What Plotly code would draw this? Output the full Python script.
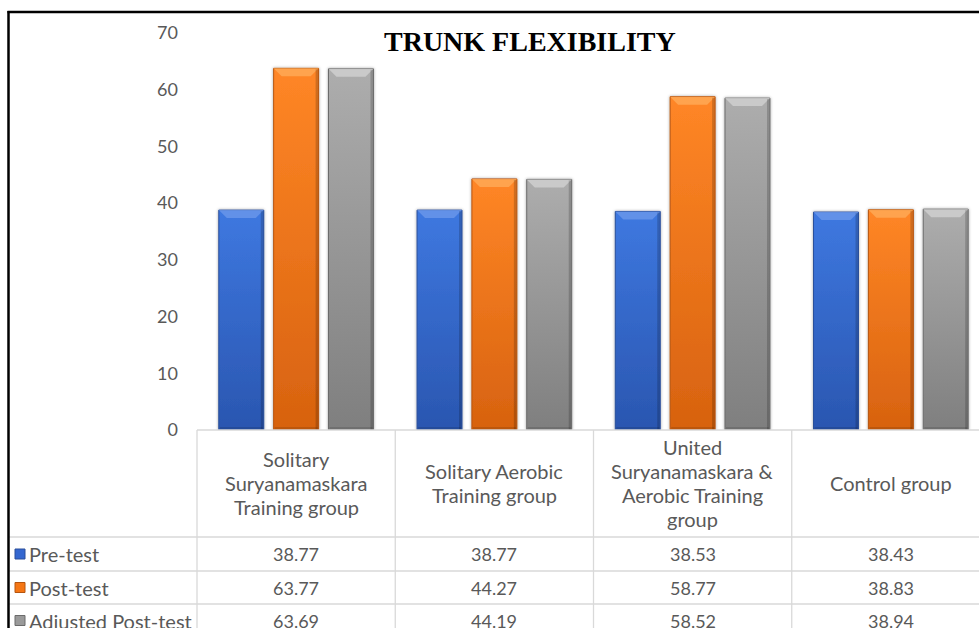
import json
import plotly.graph_objects as go

# ---- data -------------------------------------------------------------
categories = [
    "Solitary<br>Suryanamaskara<br>Training group",
    "Solitary Aerobic<br>Training group",
    "United<br>Suryanamaskara &<br>Aerobic Training<br>group",
    "Control group",
]
series_names = ["Pre-test", "Post-test", "Adjusted Post-test"]
pre_test = [38.77, 38.77, 38.53, 38.43]
post_test = [63.77, 44.27, 58.77, 38.83]
adjusted_post_test = [63.69, 44.19, 58.52, 38.94]
y_ticks = [0, 10, 20, 30, 40, 50, 60, 70]
chart_title = "TRUNK FLEXIBILITY"

# ---- styling ----------------------------------------------------------
W, H = 979, 628
series_values = [pre_test, post_test, adjusted_post_test]
base_colors = ["#3467D0", "#F57615", "#9A9A9A"]
edge_colors = ["#2A4F9A", "#B5540F", "#6B6B6B"]
grad_colors = [("#3E78E0", "#2A56B0"), ("#FF8626", "#D7620F"), ("#ADADAD", "#7F7F7F")]
bevel_colors = ["#6F9AEB", "#FFAE5C", "#D4D4D4"]
grid_color = "#D9D9D9"
text_color = "#595959"
FONT = "Lato, 'Open Sans', sans-serif"
WORD_SIZE = 20
NUM_SIZE = 18
LINE_GAP = 24


def fx(px):
    return px / W


def fy(py):
    return 1 - py / H


xs = list(range(len(categories)))
x_units_per_px = 1 / 198.3

fig = go.Figure()
for name, vals, col, edge in zip(series_names, series_values, base_colors, edge_colors):
    fig.add_trace(go.Bar(
        x=xs, y=vals, name=name,
        marker=dict(color=col, line=dict(color=edge, width=1)),
        showlegend=False, hoverinfo="y+name",
    ))

annotations = []
# chart title
annotations.append(dict(
    text=f"<b>{chart_title}</b>", x=fx(530), y=fy(41), xref="paper", yref="paper",
    xanchor="center", yanchor="middle", showarrow=False,
    font=dict(family="'Liberation Serif', 'Times New Roman', serif", size=28, color="#000000"),
))
# data table header (category names), one annotation per wrapped line
header_mid = 483
for i, cat in enumerate(categories):
    lines = cat.split("<br>")
    first = header_mid - LINE_GAP * (len(lines) - 1) / 2
    for k, ln in enumerate(lines):
        annotations.append(dict(
            text=ln, x=i, xref="x", y=fy(first + k * LINE_GAP), yref="paper",
            xanchor="center", yanchor="middle", showarrow=False,
            font=dict(family=FONT, size=WORD_SIZE, color=text_color),
        ))
# data table rows
row_centres = [554, 587.5, 620.5]
for r, (name, vals) in enumerate(zip(series_names, series_values)):
    annotations.append(dict(
        text=name, x=fx(27), xref="paper", y=fy(row_centres[r]), yref="paper",
        xanchor="left", yanchor="middle", showarrow=False,
        font=dict(family=FONT, size=WORD_SIZE, color=text_color),
    ))
    for i, v in enumerate(vals):
        annotations.append(dict(
            text=f"{v:.2f}", x=i, xref="x", y=fy(row_centres[r]), yref="paper",
            xanchor="center", yanchor="middle", showarrow=False,
            font=dict(family=FONT, size=NUM_SIZE, color=text_color),
        ))

shapes = []
line = dict(color=grid_color, width=1.3)
# table horizontal rules
shapes.append(dict(type="line", xref="paper", yref="paper", x0=fx(197), x1=1, y0=fy(430), y1=fy(430), line=line))
for yy in [537, 571, 604]:
    shapes.append(dict(type="line", xref="paper", yref="paper", x0=fx(8), x1=1, y0=fy(yy), y1=fy(yy), line=line))
# table vertical rules
shapes.append(dict(type="line", xref="paper", yref="paper", x0=fx(197), x1=fx(197), y0=fy(430), y1=0, line=line))
for b in [0.5, 1.5, 2.5]:
    shapes.append(dict(type="line", xref="x", yref="paper", x0=b, x1=b, y0=fy(430), y1=0, line=line))
# legend keys in the table
for r, (col, edge) in enumerate(zip(base_colors, edge_colors)):
    c = row_centres[r]
    shapes.append(dict(type="rect", xref="paper", yref="paper",
                       x0=fx(15), x1=fx(25), y0=fy(c + 5), y1=fy(c - 5),
                       fillcolor=col, line=dict(color=edge, width=1)))
# chart frame
shapes.append(dict(type="line", xref="paper", yref="paper", x0=fx(8.5), x1=fx(8.5), y0=fy(11), y1=0,
                   line=dict(color="#000000", width=2.5)))
shapes.append(dict(type="line", xref="paper", yref="paper", x0=fx(7.5), x1=1, y0=fy(12), y1=fy(12),
                   line=dict(color="#000000", width=2.5)))

fig.update_layout(
    width=W, height=H,
    margin=dict(l=0, r=0, t=0, b=0, pad=0, autoexpand=False),
    paper_bgcolor="#FFFFFF", plot_bgcolor="#FFFFFF",
    showlegend=False,
    barmode="group", bargap=0.17, bargroupgap=0.18,
    xaxis=dict(
        domain=[fx(197), 1], range=[-0.5, 3.5 - 11 * x_units_per_px],
        showticklabels=False, showgrid=False, zeroline=False, showline=False, ticks="",
        fixedrange=True, automargin=False,
    ),
    yaxis=dict(
        domain=[fy(430), fy(33)], range=[0, 70], tickvals=y_ticks,
        showgrid=False, zeroline=False, showline=False, ticks="",
        ticklabelstandoff=18, automargin=False,
        tickfont=dict(family=FONT, size=NUM_SIZE, color=text_color),
        fixedrange=True,
    ),
    annotations=annotations,
    shapes=shapes,
    hovermode=False,
)

# Gradient fills, bevelled tops and a soft shadow for the bars
post_js = """
var gd = document.getElementById('{plot_id}');
var ns = 'http://www.w3.org/2000/svg';
var grads = %s;
var bevels = %s;
var svg = gd.querySelector('svg.main-svg');
var defs = svg.querySelector('defs');
if (!defs) { defs = document.createElementNS(ns, 'defs'); svg.insertBefore(defs, svg.firstChild); }
var f = document.createElementNS(ns, 'filter');
f.setAttribute('id', 'barshadow'); f.setAttribute('x', '-20%%'); f.setAttribute('y', '-20%%');
f.setAttribute('width', '140%%'); f.setAttribute('height', '140%%');
var ds = document.createElementNS(ns, 'feDropShadow');
ds.setAttribute('dx', '0'); ds.setAttribute('dy', '0'); ds.setAttribute('stdDeviation', '1.6');
ds.setAttribute('flood-color', '#000'); ds.setAttribute('flood-opacity', '0.35');
f.appendChild(ds); defs.appendChild(f);
function mkGrad(id, c0, c1) {
  var g = document.createElementNS(ns, 'linearGradient');
  g.setAttribute('id', id);
  g.setAttribute('x1', '0'); g.setAttribute('y1', '0');
  g.setAttribute('x2', '0'); g.setAttribute('y2', '1');
  [[0, c0], [1, c1]].forEach(function (s) {
    var st = document.createElementNS(ns, 'stop');
    st.setAttribute('offset', s[0]); st.setAttribute('stop-color', s[1]);
    g.appendChild(st);
  });
  defs.appendChild(g);
}
var traces = gd.querySelectorAll('g.trace.bars');
traces.forEach(function (tr, i) {
  mkGrad('barfill' + i, grads[i][0], grads[i][1]);
  tr.querySelectorAll('g.point').forEach(function (pt) {
    var p = pt.querySelector('path');
    if (!p) return;
    p.style.fill = 'url(#barfill' + i + ')';
    p.setAttribute('filter', 'url(#barshadow)');
    var b = p.getBBox();
    var d = Math.min(8, b.height / 2, b.width / 2);
    var poly = document.createElementNS(ns, 'polygon');
    poly.setAttribute('points', [b.x, b.y, b.x + b.width, b.y, b.x + b.width - d, b.y + d, b.x + d, b.y + d].join(' '));
    poly.setAttribute('fill', bevels[i]); poly.setAttribute('fill-opacity', '0.75');
    pt.appendChild(poly);
    var side = document.createElementNS(ns, 'rect');
    side.setAttribute('x', b.x + b.width - 3); side.setAttribute('y', b.y + 1);
    side.setAttribute('width', 2.5); side.setAttribute('height', Math.max(0, b.height - 1));
    side.setAttribute('fill', '#000'); side.setAttribute('fill-opacity', '0.18');
    pt.appendChild(side);
    var bot = document.createElementNS(ns, 'rect');
    bot.setAttribute('x', b.x + 1); bot.setAttribute('y', b.y + b.height - 3);
    bot.setAttribute('width', Math.max(0, b.width - 2)); bot.setAttribute('height', 2.5);
    bot.setAttribute('fill', '#000'); bot.setAttribute('fill-opacity', '0.12');
    pt.appendChild(bot);
  });
});
""" % (json.dumps(grad_colors), json.dumps(bevel_colors))

fig.write_html("out.html", post_script=post_js, config={"displayModeBar": False, "staticPlot": True})
